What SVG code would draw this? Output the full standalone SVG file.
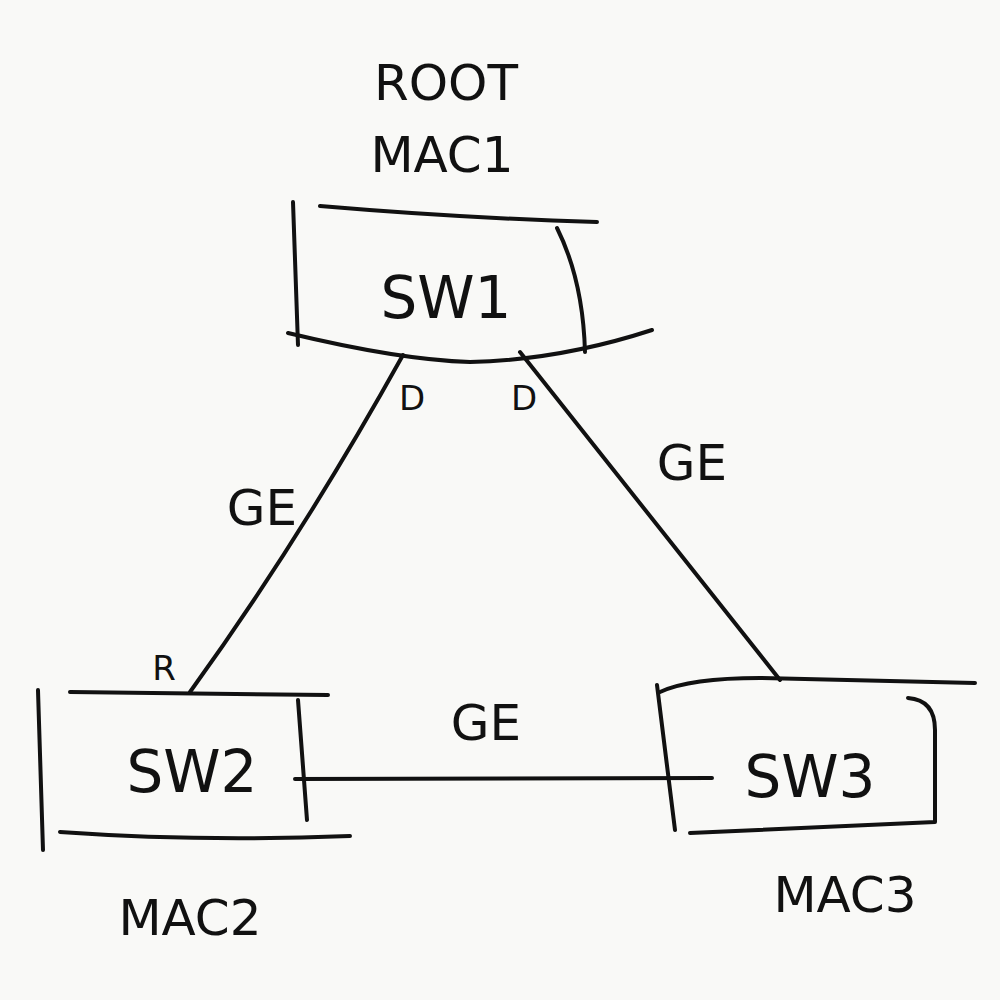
<svg xmlns="http://www.w3.org/2000/svg" width="1000" height="1000" viewBox="0 0 1000 1000">
<style>
.ink{fill:none;stroke:#111;stroke-width:4;stroke-linecap:round;stroke-linejoin:round}
.lbl{font-family:"DejaVu Sans","Liberation Sans",sans-serif;fill:#111;text-anchor:middle}
.big{font-size:58px}
.mid{font-size:50px}
.sm{font-size:34px}
</style>
<rect width="1000" height="1000" fill="#f9f9f7"/>
<g id="connectors">
<path class="ink" d="M403,355 Q300,540 190,692"/>
<path class="ink" d="M520,352 L780,680"/>
<path class="ink" d="M295,779 L712,778"/>
<text class="lbl mid" x="262" y="525">GE</text>
<text class="lbl mid" x="692" y="480">GE</text>
<text class="lbl mid" x="486" y="740">GE</text>
<text class="lbl sm" x="412" y="410">D</text>
<text class="lbl sm" x="524" y="410">D</text>
<text class="lbl sm" x="164" y="680">R</text>
</g>
<g id="sw1">
<path class="ink" d="M293,202 L298,345"/>
<path class="ink" d="M320,206 Q460,218 597,222"/>
<path class="ink" d="M557,228 Q583,280 585,352"/>
<path class="ink" d="M288,333 Q400,360 470,362 Q560,360 652,330"/>
<text class="lbl big" x="446" y="318">SW1</text>
<text class="lbl mid" x="446" y="100">ROOT</text>
<text class="lbl mid" x="442" y="172">MAC1</text>
</g>
<g id="sw2">
<path class="ink" d="M70,692 L328,695"/>
<path class="ink" d="M38,690 L43,850"/>
<path class="ink" d="M298,700 L307,820"/>
<path class="ink" d="M60,832 Q200,842 350,836"/>
<text class="lbl big" x="192" y="792">SW2</text>
<text class="lbl mid" x="190" y="935">MAC2</text>
</g>
<g id="sw3">
<path class="ink" d="M660,692 Q690,678 760,678 Q870,681 975,683"/>
<path class="ink" d="M657,685 L675,830"/>
<path class="ink" d="M908,698 Q935,700 935,730 L935,822 L690,833"/>
<text class="lbl big" x="810" y="797">SW3</text>
<text class="lbl mid" x="845" y="912">MAC3</text>
</g>
</svg>
